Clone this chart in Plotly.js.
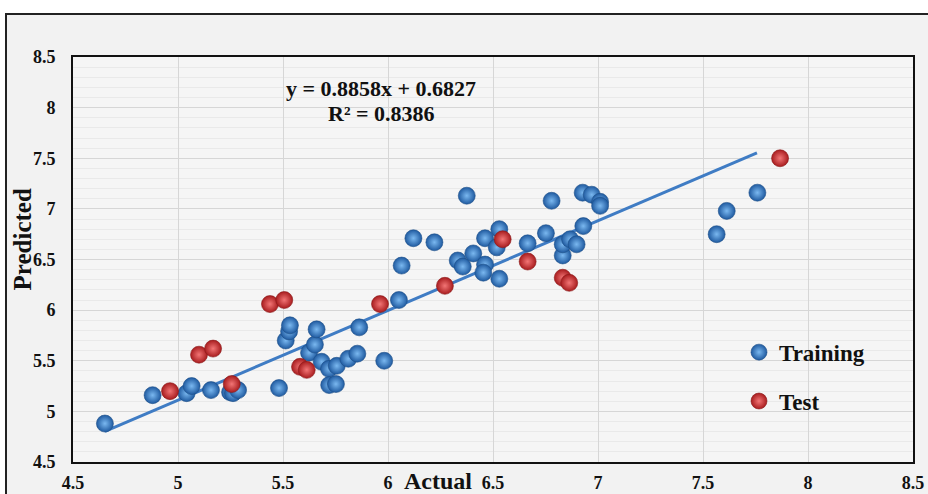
<!DOCTYPE html>
<html>
<head>
<meta charset="utf-8">
<script src="https://cdn.plot.ly/plotly-3.0.1.min.js"></script>
<style>
  html, body { margin: 0; padding: 0; background: #ffffff; width: 928px; height: 494px; overflow: hidden; }
  #frame { position: absolute; left: 5px; top: 13px; width: 940px; height: 500px; border: 2px solid #222; background: #f2f2f2; box-sizing: border-box; }
  #chart { position: absolute; left: 0; top: 0; width: 928px; height: 494px; }
</style>
</head>
<body>
<div id="frame"></div>
<div id="chart"></div>
<script>
// Training set (Actual, Predicted)
const trainActual = [4.652, 4.879, 5.041, 5.065, 5.157, 5.248, 5.262, 5.286, 5.481, 5.513,
  5.529, 5.533, 5.624, 5.652, 5.660, 5.684, 5.719, 5.756, 5.720, 5.752,
  5.811, 5.854, 5.863, 5.982, 6.052, 6.065, 6.121, 6.221, 6.332, 6.356,
  6.375, 6.406, 6.462, 6.462, 6.454, 6.518, 6.530, 6.530, 6.665, 6.752,
  6.779, 6.832, 6.832, 6.867, 6.898, 6.930, 6.927, 6.970, 7.010, 7.010,
  7.565, 7.613, 7.759];
const trainPredicted = [4.88, 5.16, 5.18, 5.25, 5.21, 5.19, 5.18, 5.21, 5.23, 5.70,
  5.79, 5.85, 5.58, 5.66, 5.81, 5.49, 5.42, 5.45, 5.26, 5.27,
  5.52, 5.57, 5.83, 5.50, 6.10, 6.44, 6.71, 6.67, 6.49, 6.43,
  7.13, 6.56, 6.71, 6.45, 6.37, 6.62, 6.80, 6.31, 6.66, 6.76,
  7.08, 6.54, 6.65, 6.70, 6.65, 6.83, 7.16, 7.14, 7.07, 7.03,
  6.75, 6.98, 7.16];

// Test set (Actual, Predicted)
const testActual = [4.962, 5.100, 5.167, 5.256, 5.438, 5.506, 5.581, 5.613, 5.962, 6.271,
  6.546, 6.665, 6.832, 6.863, 7.867];
const testPredicted = [5.20, 5.56, 5.62, 5.27, 6.06, 6.10, 5.44, 5.41, 6.06, 6.24,
  6.70, 6.48, 6.32, 6.27, 7.50];

// Linear trend line endpoints
const trendX = [4.652, 7.757];
const trendY = [4.803, 7.554];

const equationText = "y = 0.8858x + 0.6827";
const r2Text = "R² = 0.8386";

const serif = "Liberation Serif, Times New Roman, serif";

const traces = [
  {
    x: trendX, y: trendY, mode: "lines", type: "scatter",
    line: { color: "#3f7cc4", width: 3 },
    showlegend: false, hoverinfo: "skip"
  },
  {
    x: trainActual, y: trainPredicted, mode: "markers", type: "scatter",
    name: "Training", legendgroup: "a",
    marker: { size: 17, color: "#1f5aa0", gradient: { type: "radial", color: "#7ab8f0" },
              line: { color: "#1d4f88", width: 0.6 } }
  },
  {
    x: testActual, y: testPredicted, mode: "markers", type: "scatter",
    name: "Test", legendgroup: "b",
    marker: { size: 17, color: "#a81c1e", gradient: { type: "radial", color: "#f27575" },
              line: { color: "#8a1a1a", width: 0.6 } }
  }
];

const layout = {
  width: 928, height: 494,
  paper_bgcolor: "rgba(0,0,0,0)",
  plot_bgcolor: "#f5f5f5",
  margin: { l: 73, r: 15, t: 57, b: 32 },
  font: { family: serif, color: "#111" },
  xaxis: {
    range: [4.5, 8.5], dtick: 0.5, tick0: 4.5,
    showgrid: true, gridcolor: "#d6d6d6", gridwidth: 1,
    zeroline: false, showline: true, linecolor: "#111", linewidth: 2, mirror: true,
    ticks: "", ticklabelstandoff: 3,
    tickfont: { family: serif, size: 18, color: "#111", weight: "bold" }
  },
  yaxis: {
    range: [4.5, 8.5], dtick: 0.5, tick0: 4.5,
    showgrid: true, gridcolor: "#d6d6d6", gridwidth: 1,
    minor: { dtick: 0.1, showgrid: true, gridcolor: "#e9e9e9", gridwidth: 1 },
    zeroline: false, showline: true, linecolor: "#111", linewidth: 2, mirror: true,
    ticks: "", ticklabelstandoff: 12,
    tickfont: { family: serif, size: 18, color: "#111", weight: "bold" }
  },
  showlegend: true,
  legend: {
    x: (739 - 73) / 840, y: (462 - 331) / 404, xref: "paper", yref: "paper",
    xanchor: "left", yanchor: "top",
    bgcolor: "rgba(0,0,0,0)",
    font: { family: serif, size: 23, color: "#111", weight: "bold" },
    tracegroupgap: 16, traceorder: "grouped"
  },
  annotations: [
    { text: "<b>" + equationText + "</b>", xref: "paper", yref: "paper",
      x: (381 - 73) / 840, y: (462 - 89) / 404, showarrow: false,
      font: { family: serif, size: 22, color: "#111" }, xanchor: "center", yanchor: "middle" },
    { text: "<b>" + r2Text + "</b>", xref: "paper", yref: "paper",
      x: (381 - 73) / 840, y: (462 - 114) / 404, showarrow: false,
      font: { family: serif, size: 22, color: "#111" }, xanchor: "center", yanchor: "middle" },
    { text: "<b>Actual</b>", xref: "paper", yref: "paper",
      x: (438 - 73) / 840, y: -(481 - 462) / 404, showarrow: false,
      font: { family: serif, size: 24, color: "#111" }, xanchor: "center", yanchor: "middle" },
    { text: "<b>Predicted</b>", xref: "paper", yref: "paper",
      x: -(73 - 22) / 840, y: (462 - 240) / 404, showarrow: false, textangle: -90,
      font: { family: serif, size: 25, color: "#111" }, xanchor: "center", yanchor: "middle" }
  ]
};

Plotly.newPlot("chart", traces, layout, { displayModeBar: false, staticPlot: true });
</script>
</body>
</html>
